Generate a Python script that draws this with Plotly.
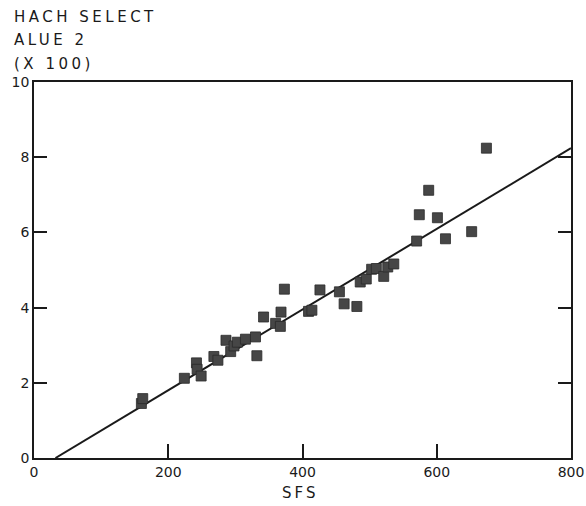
import plotly.graph_objects as go

# SFS readings and the matching HACH SELECT values (x 100)
sfs = [160, 162, 224, 242, 243, 249, 268, 274, 286, 293, 298, 303, 315, 330, 332,
       342, 360, 367, 368, 373, 409, 414, 426, 455, 462, 481, 486, 495, 503, 510,
       521, 527, 536, 570, 574, 588, 601, 613, 652, 674]
hach = [1.45, 1.58, 2.12, 2.53, 2.36, 2.18, 2.70, 2.60, 3.13, 2.83, 2.98, 3.08, 3.16, 3.22, 2.72,
        3.75, 3.58, 3.50, 3.88, 4.49, 3.90, 3.93, 4.47, 4.42, 4.10, 4.03, 4.68, 4.76, 5.02, 5.04,
        4.83, 5.08, 5.16, 5.77, 6.47, 7.12, 6.39, 5.83, 6.02, 8.24]

# fitted straight line, end points
fit_x = [32, 800]
fit_y = [0.0, 8.24]

x_ticks = [0, 200, 400, 600, 800]
y_ticks = [0, 2, 4, 6, 8, 10]
y_title_lines = ["HACH SELECT", "ALUE 2", "(X 100)"]
x_title = "SFS"

ink = "#1a1a1a"
font = "DejaVu Sans"

fig = go.Figure()
fig.add_trace(go.Scatter(x=fit_x, y=fit_y, mode="lines",
                         line=dict(color=ink, width=2), showlegend=False))
fig.add_trace(go.Scatter(x=sfs, y=hach, mode="markers",
                         marker=dict(symbol="square", size=10, color="#464646",
                                     line=dict(width=0.8, color="#2a2a2a")),
                         showlegend=False))

W, H = 586, 506
ml, mr, mt, mb = 34, 15, 82, 48
pw, ph = W - ml - mr, H - mt - mb

fig.update_layout(
    width=W, height=H,
    margin=dict(l=ml, r=mr, t=mt, b=mb, autoexpand=False),
    paper_bgcolor="white", plot_bgcolor="white",
    font=dict(family=font, size=14, color=ink),
    xaxis=dict(range=[0, 800], tickvals=x_ticks, ticks="inside", ticklen=14,
               tickwidth=1.5, tickcolor=ink, showline=True, linecolor=ink,
               linewidth=1.5, mirror=True, showgrid=False, zeroline=False,
               automargin=False, tickfont=dict(size=14),
               title=dict(text=""), fixedrange=True),
    yaxis=dict(range=[0, 10], tickvals=y_ticks, ticks="inside", ticklen=13,
               tickwidth=1.5, tickcolor=ink, showline=True, linecolor=ink,
               linewidth=1.5, mirror="ticks", showgrid=False, zeroline=False,
               automargin=False, tickfont=dict(size=14),
               title=dict(text=""), fixedrange=True),
)

# multi-line axis caption at the top left
centers = [17, 40, 64]
for txt, yc in zip(y_title_lines, centers):
    fig.add_annotation(
        text='<span style="letter-spacing:3.5px">' + txt + "</span>",
        xref="paper", yref="paper",
        x=(12 - ml) / pw, y=(H - mb - yc) / ph,
        xanchor="left", yanchor="middle", showarrow=False,
        font=dict(family=font, size=15, color=ink))

fig.add_annotation(
    text='<span style="letter-spacing:3px">' + x_title + "</span>",
    xref="paper", yref="paper", x=(300 - ml) / pw, y=(H - mb - 493) / ph,
    xanchor="center", yanchor="middle", showarrow=False,
    font=dict(family=font, size=15, color=ink))

fig.write_html("out.html")
